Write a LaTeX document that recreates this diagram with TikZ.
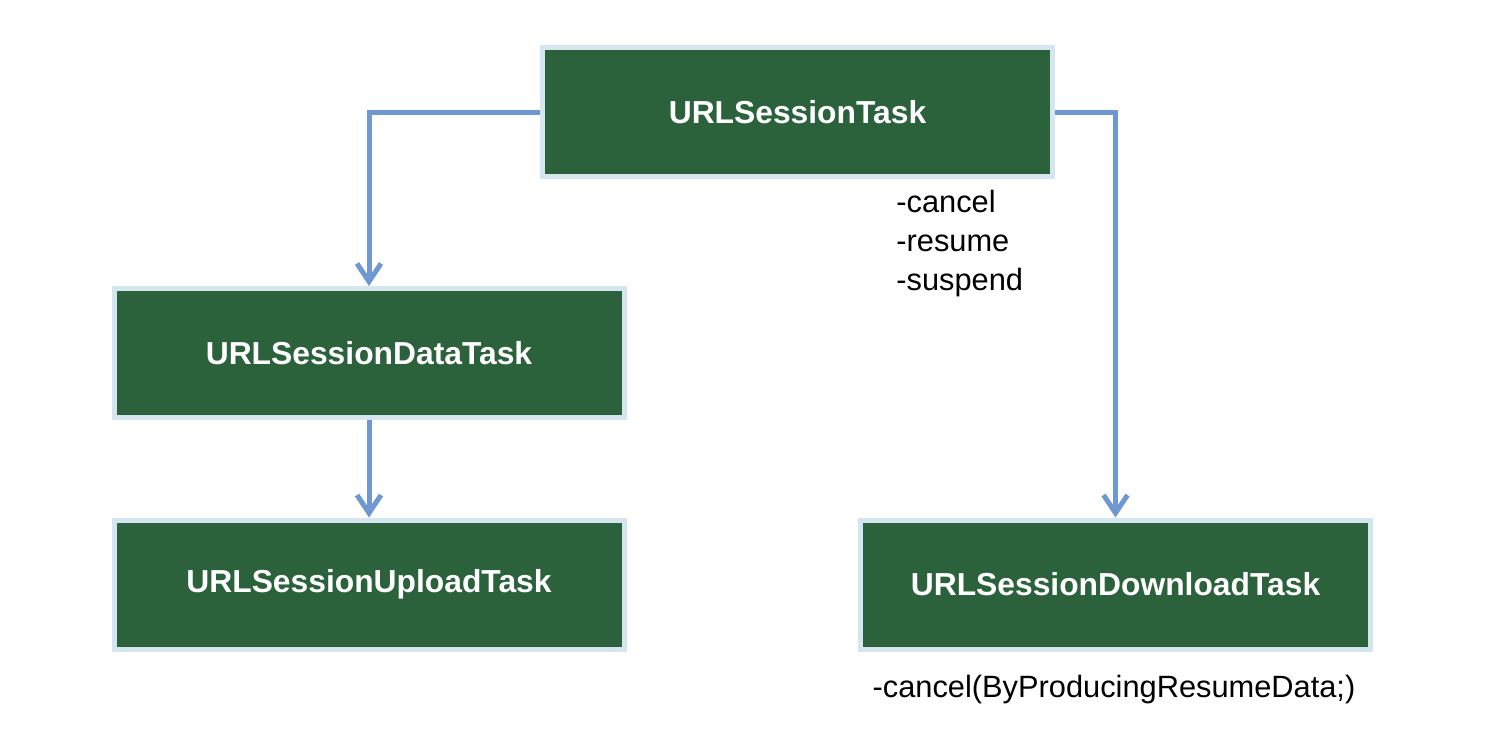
\documentclass[tikz,border=0pt]{standalone}
\usepackage{fontspec}
\setmainfont{Liberation Sans}
\usetikzlibrary{arrows.meta,positioning}
\definecolor{boxgreen}{RGB}{43,98,60}
\definecolor{boxrim}{RGB}{213,230,241}
\definecolor{linkblue}{RGB}{111,151,210}
\tikzstyle{classbox}=[draw=boxrim,line width=2.5pt,fill=boxgreen,text=white,
minimum width=255pt,minimum height=64.5pt,inner sep=0pt,
font=\fontsize{15.9}{19}\selectfont\bfseries]
\tikzstyle{link}=[draw=linkblue,line width=2.5pt,
-{Straight Barb[length=9pt,width=12pt]}]
\tikzstyle{note}=[inner sep=0pt,align=left,font=\fontsize{15.4}{19.5}\selectfont]

\begin{document}
\begin{tikzpicture}[x=.5pt,y=-.5pt]
	\useasboundingbox (0,0) rectangle (1494,736);

	%classes
	\node[classbox] (task) at (797.5,112) {URLSessionTask};
	\node[classbox] (data) at (369,353) {URLSessionDataTask};
	\node[classbox] (upload) at (369,584.5) {URLSessionUploadTask};
	\node[classbox] (download) at (1115.5,584.5) {URLSessionDownloadTask};

	%methods
	\node[note,anchor=north west] (methods) at (896,190) {-cancel\\-resume\\-suspend};
	\node[note] (resumenote) at (1114,690) {-cancel(ByProducingResumeData;)};

	%inheritance
	\draw[link] (task.west) -| (data.north);
	\draw[link] (data.south) -- (upload.north);
	\draw[link] (task.east) -| (download.north);
\end{tikzpicture}
\end{document}
